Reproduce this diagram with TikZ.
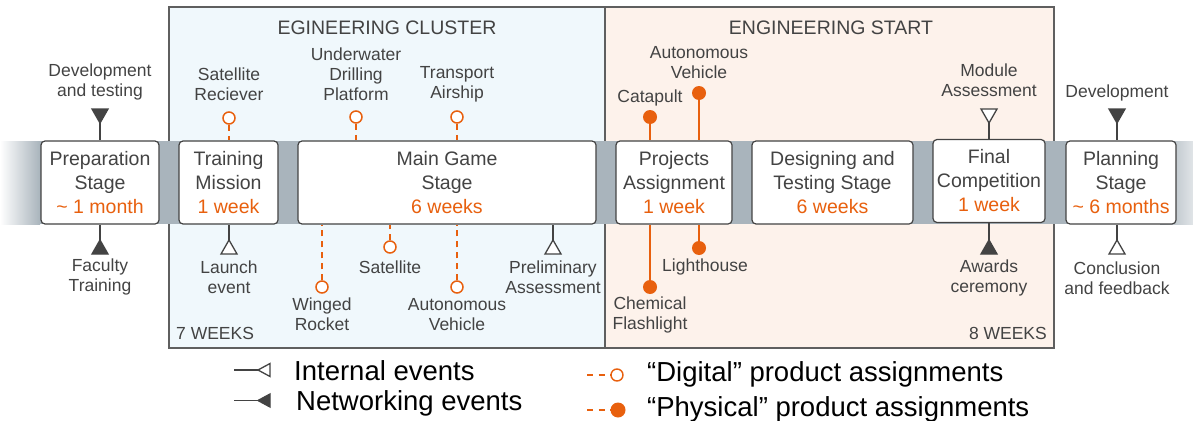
\documentclass[tikz,border=0pt]{standalone}
\usepackage{fontspec}
\setmainfont{Liberation Sans}
\usetikzlibrary{calc}

\definecolor{band}{HTML}{A9B4BC}
\definecolor{orng}{HTML}{E8600E}
\definecolor{ink}{HTML}{434343}
\definecolor{clusterA}{HTML}{F0F8FC}
\definecolor{clusterB}{HTML}{FDF2EB}

\tikzset{
  stage/.style = {draw=ink, fill=white, rounded corners=4pt, line width=1.2pt, align=center,
                  inner sep=0pt, minimum height=83pt, text=ink, font=\fontsize{19.5}{24}\selectfont},
  lbl/.style = {align=center, text=ink, inner sep=0pt, font=\fontsize{17.5}{20}\selectfont},
  title/.style = {text=ink, inner sep=0pt, font=\fontsize{19.5}{24}\selectfont},
  legendtext/.style = {anchor=west, inner sep=0pt, text=black, font=\fontsize{27.5}{30}\selectfont},
  evline/.style = {draw=ink, line width=1.3pt},
  intev/.style = {draw=ink, fill=white, line width=1.3pt},
  netev/.style = {draw=ink, fill=ink, line width=1.3pt},
  digital/.style = {circle, draw=orng, fill=white, line width=1.5pt, minimum size=12pt, inner sep=0pt},
  physical/.style = {circle, fill=orng, minimum size=14pt, inner sep=0pt},
  digline/.style = {draw=orng, line width=1.5pt, dash pattern=on 6pt off 5pt},
  physline/.style = {draw=orng, line width=1.5pt}
}

\begin{document}
\begin{tikzpicture}[x=1pt, y=-1pt]

\useasboundingbox (0,0) rectangle (1193,420);

\draw[draw=ink!85, fill=clusterA, line width=1.2pt] (169,7) rectangle (605,348);
\draw[draw=ink!85, fill=clusterB, line width=1.2pt] (605,7) rectangle (1054,348);

\node[title] (clusterT) at (387,28) {EGINEERING CLUSTER};
\node[title] (startT) at (831,28) {ENGINEERING START};
\node[lbl, anchor=west] (weeksA) at (176,333) {7 WEEKS};
\node[lbl, anchor=east] (weeksB) at (1047,333) {8 WEEKS};

\shade[left color=white, right color=band] (0,141) rectangle (40,224);
\fill[band] (40,141) rectangle (1160,224);
\shade[left color=band, right color=band!35] (1160,141) rectangle (1193,224);

\node[stage, minimum width=118pt] (prep) at (100,182.5) {Preparation\\Stage\\\textcolor{orng}{\textasciitilde\ 1 month}};
\node[stage, minimum width=99pt] (train) at (228.5,182.5) {Training\\Mission\\\textcolor{orng}{1 week}};
\node[stage, minimum width=298pt] (game) at (447,182.5) {Main Game\\Stage\\\textcolor{orng}{6 weeks}};
\node[stage, minimum width=116pt] (proj) at (674,182.5) {Projects\\Assignment\\\textcolor{orng}{1 week}};
\node[stage, minimum width=161pt] (design) at (832.5,182.5) {Designing and\\Testing Stage\\\textcolor{orng}{6 weeks}};
\node[stage, minimum width=112pt] (final) at (989,181) {Final\\Competition\\\textcolor{orng}{1 week}};
\node[stage, minimum width=110pt] (plan) at (1121,182.5) {Planning\\Stage\\\textcolor{orng}{\textasciitilde\ 6 months}};

% triangle tips
\coordinate (devtest) at (100,123);
\coordinate (faculty) at (100,240);
\coordinate (launch) at (229,240);
\coordinate (prelim) at (553,240);
\coordinate (module) at (989,123);
\coordinate (awards) at (989,240);
\coordinate (develop) at (1117,123);
\coordinate (conclude) at (1117,240);

\foreach \c/\n in {devtest/prep, module/final, develop/plan}
  {\draw[evline] (\c) -- (\c |- \n.north);}
\foreach \c/\n in {faculty/prep, launch/train, prelim/game, awards/final, conclude/plan}
  {\draw[evline] (\c) -- (\c |- \n.south);}

\foreach \c/\s in {devtest/netev, module/intev, develop/netev}
  {\draw[\s] (\c) -- ++(-8,-14) -- ++(16,0) -- cycle;}
\foreach \c/\s in {faculty/netev, launch/intev, prelim/intev, awards/netev, conclude/intev}
  {\draw[\s] (\c) -- ++(-8,14) -- ++(16,0) -- cycle;}

% product assignments
\node[digital] (satrec) at (229,118) {};
\node[digital] (drill) at (356,117) {};
\node[digital] (airship) at (457,117) {};
\node[digital] (rocket) at (322,287) {};
\node[digital] (sat) at (390,247) {};
\node[digital] (autoA) at (457,287) {};
\node[physical] (catapult) at (650,117) {};
\node[physical] (autoB) at (699,93) {};
\node[physical] (chem) at (650,287) {};
\node[physical] (light) at (699,248) {};

\foreach \a/\b in {satrec/train, drill/game, airship/game}
  {\draw[digline] (\a) -- (\a |- \b.north);}
\foreach \a/\b in {rocket/game, sat/game, autoA/game}
  {\draw[digline] (\a) -- (\a |- \b.south);}
\foreach \a/\b in {catapult/proj, autoB/proj}
  {\draw[physline] (\a) -- (\a |- \b.north);}
\foreach \a/\b in {chem/proj, light/proj}
  {\draw[physline] (\a) -- (\a |- \b.south);}

\node[lbl] (devtestL) at (100,82) {Development\\and testing};
\node[lbl] (facultyL) at (100,276.5) {Faculty\\Training};
\node[lbl] (satrecL) at (229,84) {Satellite\\Reciever};
\node[lbl] (launchL) at (229,277) {Launch\\event};
\node[lbl] (drillL) at (356,74) {Underwater\\Drilling\\Platform};
\node[lbl] (airshipL) at (457,84) {Transport\\Airship};
\node[lbl] (rocketL) at (322,314.5) {Winged\\Rocket};
\node[lbl] (satL) at (390,267) {Satellite};
\node[lbl] (autoAL) at (457,314.5) {Autonomous\\Vehicle};
\node[lbl] (prelimL) at (553,277) {Preliminary\\Assessment};
\node[lbl] (catapultL) at (650,98) {Catapult};
\node[lbl] (autoBL) at (699,62.5) {Autonomous\\Vehicle};
\node[lbl] (chemL) at (650,315) {Chemical\\Flashlight};
\node[lbl] (lightL) at (705,267) {Lighthouse};
\node[lbl] (moduleL) at (989,80) {Module\\Assessment};
\node[lbl] (awardsL) at (989,278) {Awards\\ceremony};
\node[lbl] (developL) at (1117,93) {Development};
\node[lbl] (concludeL) at (1117,278) {Conclusion\\and feedback};

% legend
\coordinate (intkey) at (258,370);
\coordinate (netkey) at (258,400.5);
\draw[evline] (intkey) -- ++(-24,0);
\draw[evline] (netkey) -- ++(-24,0);
\draw[intev] (intkey) -- ++(12,-6.5) -- ++(0,13) -- cycle;
\draw[netev] (netkey) -- ++(12,-6.5) -- ++(0,13) -- cycle;
\node[legendtext] (intL) at (294,371) {Internal events};
\node[legendtext] (netL) at (296,403.3) {Networking events};

\node[digital, minimum size=12pt, line width=1.4pt] (digkey) at (617,375) {};
\node[physical, minimum size=15pt] (physkey) at (618,410) {};
\coordinate (digend) at (587,375);
\coordinate (physend) at (587,410);
\draw[digline, line width=1.3pt, dash pattern=on 6pt off 5.5pt] (digend) -- (digkey);
\draw[digline, line width=1.3pt, dash pattern=on 6pt off 5.5pt] (physend) -- (physkey);
\node[legendtext] (digL) at (647,374.3) {“Digital” product assignments};
\node[legendtext] (physL) at (647,409.3) {“Physical” product assignments};

\end{tikzpicture}
\end{document}
